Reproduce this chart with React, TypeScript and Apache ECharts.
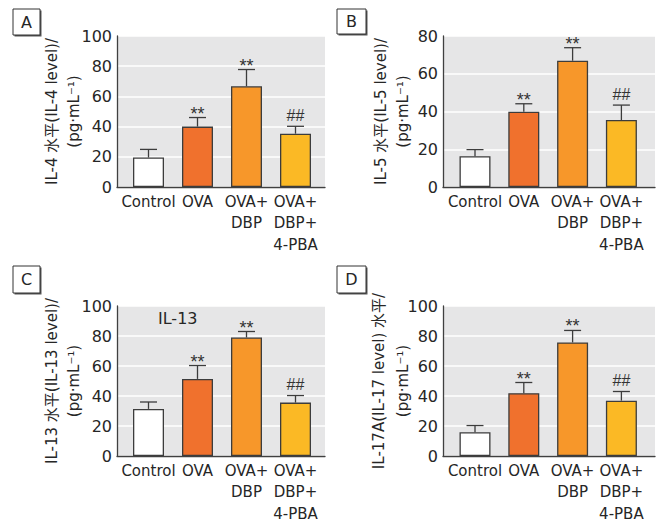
import React, { useEffect, useRef } from "react";
import * as echarts from "echarts";

const categories = ["Control", "OVA", "OVA+\nDBP", "OVA+\nDBP+\n4-PBA"];
const il4Mean = [19.5, 40, 66.7, 35.3];
const il4Err = [5.4, 6, 11.1, 4.9];
const il5Mean = [16.3, 39.9, 66.9, 35.5];
const il5Err = [3.5, 4.2, 6.9, 7.9];
const il13Mean = [31.4, 51.4, 79, 35.6];
const il13Err = [4.6, 8.9, 4, 4.7];
const il17Mean = [15.8, 41.9, 75.7, 36.9];
const il17Err = [4.5, 7.1, 8, 6.1];
const marks = ["", "**", "**", "##"];
const yMaxes = [100, 80, 100, 100];
const panelLetters = ["A", "B", "C", "D"];
const titles1 = [
  "IL-4 水平(IL-4 level)/",
  "IL-5 水平(IL-5 level)/",
  "IL-13 水平(IL-13 level)/",
  "IL-17A(IL-17 level) 水平/",
];
const title2 = "(pg·mL⁻¹)";
const barColors = ["#FFFFFF", "#F0712D", "#F7972A", "#FBB925"];

const FONT = "'DejaVu Sans', 'Noto Sans CJK SC', sans-serif";
const TXT = "#262626";

const layouts = [
  { left: 117, right: 325, top: 36, bottom: 187, c0: 148.5, step: 49, t1x: 52, t2x: 74, box: [13, 9, 27, 26] },
  { left: 443, right: 655, top: 36, bottom: 187, c0: 475, step: 48.8, t1x: 381, t2x: 403, box: [337, 9, 29, 25] },
  { left: 117, right: 325, top: 306, bottom: 456, c0: 148.5, step: 49, t1x: 52, t2x: 74, box: [13, 266, 27, 27] },
  { left: 443, right: 655, top: 306, bottom: 456, c0: 475, step: 48.8, t1x: 379, t2x: 403, box: [337, 266, 29, 27] },
];

const means = [il4Mean, il5Mean, il13Mean, il17Mean];
const errs = [il4Err, il5Err, il13Err, il17Err];

export default function App() {
  const ref = useRef<HTMLDivElement>(null);
  useEffect(() => {
    document.body.style.margin = "0";
    if (!ref.current) return;
    const chart = echarts.init(ref.current, null, { renderer: "svg" });
    const grid: any[] = [];
    const xAxis: any[] = [];
    const yAxis: any[] = [];
    const series: any[] = [];
    const graphic: any[] = [];
    layouts.forEach((L, p) => {
      const h = L.bottom - L.top;
      const w = L.right - L.left;
      grid.push({ left: L.left, top: L.top, width: w, height: h, show: true, backgroundColor: "#E6E6E7", borderWidth: 0, outerBoundsMode: "none" });
      grid.push({ left: L.c0 - L.step / 2, top: L.top, width: L.step * 4, height: h, outerBoundsMode: "none" });
      xAxis.push({
        type: "value",
        gridIndex: 2 * p,
        min: -(L.c0 - L.left) / L.step,
        max: 3 + (L.right - (L.c0 + 3 * L.step)) / L.step,
        axisLine: { show: true, onZero: false, lineStyle: { color: "#404040", width: 1.3 } },
        axisTick: { show: false },
        axisLabel: { show: false },
        splitLine: { show: false },
      });
      xAxis.push({
        type: "category",
        gridIndex: 2 * p + 1,
        data: categories,
        axisLine: { show: false },
        axisTick: { show: false },
        axisLabel: { interval: 0, margin: 4, fontSize: 15, fontFamily: FONT, color: TXT, lineHeight: 21.5 },
      });
      yAxis.push({
        type: "value",
        gridIndex: 2 * p,
        min: 0,
        max: yMaxes[p],
        interval: 20,
        axisLine: { show: true, onZero: false, lineStyle: { color: "#404040", width: 1.3 } },
        axisTick: { show: false },
        axisLabel: { margin: 5, fontSize: 16, fontFamily: FONT, color: TXT },
        splitLine: { show: true, lineStyle: { color: "#FFFFFF", width: 1.5 } },
      });
      yAxis.push({ type: "value", gridIndex: 2 * p + 1, show: false, min: 0, max: yMaxes[p] });
      series.push({
        type: "bar",
        xAxisIndex: 2 * p,
        yAxisIndex: 2 * p,
        barWidth: 31,
        data: means[p].map((v, i) => ({ value: [i, v], itemStyle: { color: barColors[i] } })),
        itemStyle: { borderColor: "#3C3C3C", borderWidth: 1.3 },
        z: 3,
      });
      series.push({
        type: "custom",
        xAxisIndex: 2 * p,
        yAxisIndex: 2 * p,
        z: 4,
        encode: { x: 0, y: 1 },
        data: means[p].map((v, i) => [i, v, errs[p][i]]),
        renderItem: (params: any, api: any) => {
          const x = api.value(0);
          const y = api.value(1);
          const e = api.value(2);
          const p0 = api.coord([x, y]);
          const p1 = api.coord([x, y + e]);
          const mark = marks[params.dataIndex];
          const children: any[] = [
            { type: "line", shape: { x1: p0[0], y1: p0[1], x2: p1[0], y2: p1[1] }, style: { stroke: "#3C3C3C", lineWidth: 1.3 } },
            { type: "line", shape: { x1: p1[0] - 8.5, y1: p1[1], x2: p1[0] + 8.5, y2: p1[1] }, style: { stroke: "#3C3C3C", lineWidth: 1.3 } },
          ];
          if (mark) {
            const isHash = mark === "##";
            children.push({
              type: "text",
              x: p1[0],
              y: p1[1] - (isHash ? 11 : 4),
              style: {
                text: mark,
                fill: "#333",
                fontSize: isHash ? 16 : 18,
                fontFamily: "'Liberation Sans', sans-serif",
                align: "center",
                verticalAlign: "middle",
              },
            });
          }
          return { type: "group", children };
        },
      });
      const mid = (L.top + L.bottom) / 2;
      graphic.push({
        type: "text", x: L.t1x, y: mid, rotation: Math.PI / 2,
        style: { text: titles1[p], fontSize: 15, fontFamily: FONT, fill: TXT, align: "center", verticalAlign: "middle" },
      });
      graphic.push({
        type: "text", x: L.t2x, y: mid, rotation: Math.PI / 2,
        style: { text: title2, fontSize: 15, fontFamily: FONT, fill: TXT, align: "center", verticalAlign: "middle" },
      });
      const [bx, by, bw, bh] = L.box;
      graphic.push({ type: "rect", shape: { x: bx + 1.5, y: by + 1.5, width: bw, height: bh }, style: { fill: "#555" } });
      graphic.push({ type: "rect", shape: { x: bx, y: by, width: bw, height: bh }, style: { fill: "#fff", stroke: "#333", lineWidth: 1 } });
      graphic.push({
        type: "text", x: bx + bw / 2, y: by + bh / 2,
        style: { text: panelLetters[p], fontSize: 16, fontFamily: FONT, fill: TXT, align: "center", verticalAlign: "middle" },
      });
    });
    graphic.push({
      type: "text", x: 158, y: 318,
      style: { text: "IL-13", fontSize: 16, fontFamily: FONT, fill: TXT, align: "left", verticalAlign: "middle" },
    });
    chart.setOption({ animation: false, grid, xAxis, yAxis, series, graphic });
    return () => chart.dispose();
  }, []);
  return <div ref={ref} style={{ width: 659, height: 524 }} />;
}
